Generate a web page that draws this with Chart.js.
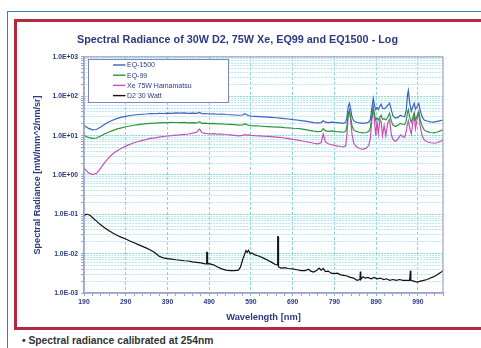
<!DOCTYPE html>
<html>
<head>
<meta charset="utf-8">
<script src="https://cdn.jsdelivr.net/npm/chart.js@4/dist/chart.umd.min.js"></script>
<style>
  body { margin: 0; background: #fff; width: 481px; height: 348px; overflow: hidden; position: relative; font-family: "Liberation Sans", Arial, sans-serif; }
  #blueFrame { position: absolute; left: 7px; top: 11px; width: 500px; height: 400px; border-left: 1.5px solid #3a78c0; border-top: 1.5px solid #3a78c0; }
  #redFrame { position: absolute; left: 14px; top: 19px; width: 480px; height: 305px; border: 3px solid #b32a3c; }
  #note { position: absolute; left: 22px; top: 335px; font-size: 10.3px; font-weight: bold; color: #333; white-space: nowrap; }
  canvas { position: absolute; left: 0; top: 0; }
</style>
</head>
<body>
<div id="blueFrame"></div>
<div id="redFrame"></div>
<div id="note">• Spectral radiance calibrated at 254nm</div>
<canvas id="spectrum" width="481" height="348"></canvas>
<script>
// Longitudes de onda comunes para EQ-1500, EQ-99 y Xe
const bbWave = [
  190, 200, 210, 220, 230, 240, 250, 260, 270, 280,
  290, 300, 310, 320, 330, 340, 350, 360, 370, 380,
  390, 400, 410, 420, 430, 440, 450, 460, 467, 472,
  480, 490, 500, 510, 520, 530, 540, 550, 560, 570,
  575, 580, 585, 590, 600, 610, 620, 630, 640, 650,
  660, 670, 680, 690, 700, 710, 720, 730, 740, 750,
  758, 763, 768, 775, 785, 795, 805, 812, 817, 820,
  823, 826, 829, 832, 836, 842, 850, 858, 866, 872,
  876, 879, 883, 886, 889, 892, 895, 899, 902, 905,
  909, 913, 918, 922, 926, 930, 936, 942, 948, 953,
  958, 962, 965, 967, 970, 974, 978, 981, 984, 988,
  992, 995, 1000, 1005, 1012, 1020, 1028, 1036, 1044, 1050
];
const eq1500 = [
  18, 15.5, 14, 14.3, 16.5, 19.5, 22.5, 25, 27.5, 29.5,
  31, 32.5, 33.5, 34.5, 35, 35.5, 36.5, 36, 37, 36.5,
  37.5, 37, 38, 37.5, 38, 37, 37.5, 37, 39, 36,
  36.5, 35.5, 36, 35, 35.5, 34.5, 34, 33.5, 33, 33.5,
  36, 34, 32, 31.5, 31, 30.5, 30, 29.5, 29, 28.5,
  28, 27, 26.5, 25.5, 25, 24, 23.5, 22.5, 21.5, 21,
  21.5, 24, 22, 21.5, 22, 21.5, 21, 20.5, 22, 30,
  55, 66, 46, 30, 24, 22, 21, 20.5, 21, 22,
  26, 45, 89, 58, 46, 52, 46, 56, 63, 50,
  48, 52, 60, 67, 46, 32, 28, 29, 33, 31,
  30, 45, 110, 140, 70, 42, 55, 66, 47, 55,
  66, 46, 30, 25, 23.5, 22.5, 22, 23, 24, 25
];
const eq99 = [
  10.2, 9.0, 8.5, 8.7, 9.8, 11.2, 12.4, 13.6, 14.8, 15.8,
  16.8, 17.6, 18.4, 19.0, 19.6, 20.2, 20.5, 20.8, 21.0, 21.3,
  21.5, 21.8, 21.6, 21.4, 21.8, 21.2, 21.5, 21.0, 22.5, 20.5,
  20.8, 20.2, 20.4, 19.8, 20.0, 19.5, 19.4, 19.0, 18.6, 18.8,
  19.8, 19.0, 18.4, 18.0, 17.8, 17.6, 17.2, 17.0, 16.8, 16.5,
  16.4, 16.0, 15.8, 15.4, 15.2, 14.8, 14.2, 13.6, 13.0, 12.6,
  12.8, 15.0, 13.4, 12.8, 13.2, 12.6, 12.4, 12.2, 13.0, 18.0,
  34, 42, 28, 17.5, 14.0, 12.8, 12.2, 11.8, 12.0, 12.8,
  15.5, 28, 55, 34, 24, 28, 25, 30, 33, 26,
  27, 25, 30, 37, 24, 18.5, 17.0, 18.5, 20.5, 19.5,
  19.0, 24, 40, 46, 30, 22, 30, 38, 25, 32,
  40, 26, 17.5, 14.0, 12.6, 12.0, 11.8, 12.4, 13.2, 14.0
];
const xe75 = [
  1.5, 1.15, 1.02, 1.1, 1.5, 2.1, 2.8, 3.5, 4.2, 4.8,
  5.4, 6.0, 6.6, 7.1, 7.6, 8.0, 8.5, 8.8, 9.2, 9.5,
  9.8, 10.0, 10.3, 10.5, 10.8, 11.0, 11.6, 12.2, 14.8, 12.0,
  11.4, 11.0, 11.2, 10.9, 11.0, 10.7, 10.5, 10.2, 9.9, 10.1,
  10.6, 10.3, 10.4, 10.2, 10.0, 9.9, 9.7, 9.6, 9.4, 9.2,
  9.0, 8.7, 8.4, 8.0, 7.8, 7.4, 7.1, 6.8, 6.4, 6.2,
  6.6, 11.0, 7.0, 6.2, 5.8, 5.5, 5.3, 5.2, 5.6, 11.0,
  35, 45, 24, 11, 6.5, 5.3, 4.7, 4.5, 4.8, 5.6,
  8.5, 22, 52, 22, 10, 24, 11, 26, 22, 10,
  18, 10, 22, 26, 11, 8.0, 7.2, 8.2, 10.5, 9.5,
  9.0, 13, 20, 24, 16, 11, 22, 34, 15, 26,
  40, 18, 10, 7.8, 7.0, 6.6, 6.4, 6.6, 7.2, 7.8
];

// Lámpara de deuterio
const d2Wave = [
  190, 195, 200, 205, 210, 220, 230, 240, 250, 260,
  270, 280, 290, 300, 310, 320, 330, 340, 350, 360,
  370, 380, 390, 400, 410, 420, 430, 440, 450, 460,
  470, 478, 483, 484, 485, 486, 490, 500, 510, 520,
  530, 540, 550, 560, 565, 570, 575, 578, 581, 584,
  588, 592, 600, 610, 620, 630, 640, 648, 653, 654,
  655, 656, 662, 670, 680, 690, 700, 710, 720, 728,
  733, 740, 748, 753, 758, 763, 768, 775, 782, 790,
  797, 805, 812, 820, 828, 836, 844, 851, 852, 853,
  858, 864, 870, 878, 885, 892, 900, 908, 915, 922,
  930, 938, 946, 954, 962, 970, 972, 973, 980, 988,
  996, 1004, 1012, 1020, 1028, 1036, 1044, 1050
];
const d2 = [
  0.092, 0.100, 0.099, 0.093, 0.083, 0.067, 0.054, 0.045, 0.038, 0.033,
  0.029, 0.026, 0.0235, 0.021, 0.019, 0.017, 0.0153, 0.0138, 0.0122, 0.0105,
  0.0086, 0.0078, 0.0075, 0.0073, 0.0070, 0.0068, 0.0066, 0.0065, 0.0062, 0.0060,
  0.0058, 0.0056, 0.0055, 0.0108, 0.0108, 0.0055, 0.0056, 0.0052, 0.0046, 0.0041,
  0.0038, 0.0037, 0.0037, 0.0038, 0.0046, 0.0070, 0.0098, 0.0120, 0.0108, 0.0122,
  0.0100, 0.0104, 0.0093, 0.0086, 0.0077, 0.0068, 0.0060, 0.0053, 0.0052, 0.027,
  0.027, 0.0046, 0.0043, 0.0044, 0.0042, 0.0041, 0.0039, 0.0037, 0.0037, 0.0040,
  0.0036, 0.0034, 0.0038, 0.0043, 0.0038, 0.0042, 0.0035, 0.0036, 0.0032, 0.0031,
  0.0032, 0.0029, 0.0028, 0.0027, 0.0025, 0.0024, 0.0021, 0.0022, 0.0035, 0.0022,
  0.0026, 0.0024, 0.0025, 0.0023, 0.0025, 0.0023, 0.0024, 0.0022, 0.0023, 0.0021,
  0.0022, 0.0021, 0.0022, 0.0021, 0.0021, 0.0021, 0.0037, 0.0021, 0.0020, 0.0019,
  0.0020, 0.0021, 0.0022, 0.0024, 0.0026, 0.0029, 0.0033, 0.0037
];

// Etiquetas de los ejes
const xTickLabels = [190, 290, 390, 490, 590, 690, 790, 890, 990];
const yDecades = [0.001, 0.01, 0.1, 1, 10, 100, 1000];

const navy = '#2b3a80';
const font = 'Liberation Sans, Arial, sans-serif';

function toPoints(xs, ys) {
  return xs.map((x, i) => ({ x: x, y: ys[i] }));
}

function isDecade(v) {
  const l = Math.log10(v);
  return Math.abs(l - Math.round(l)) < 1e-6;
}

function formatExp(v) {
  const e = Math.round(Math.log10(v));
  const sign = e < 0 ? '-' : '+';
  return '1.0E' + sign + String(Math.abs(e)).padStart(2, '0');
}

// Ticks menores del eje Y (2..9 por década) y del eje X (cada 20 nm)
const yTicks = [];
yDecades.forEach((d, i) => {
  if (i === yDecades.length - 1) { yTicks.push(d); return; }
  for (let k = 1; k <= 9; k++) yTicks.push(d * k);
});
const xTicks = [];
for (let w = 190; w <= 1050; w += 20) xTicks.push(w);

// Marco del área de trazado y leyenda
const framePlugin = {
  id: 'frame',
  afterDatasetsDraw(chart) {
    const { ctx, chartArea: a } = chart;
    ctx.save();
    ctx.strokeStyle = '#9ea3c8';
    ctx.lineWidth = 1.2;
    ctx.strokeRect(a.left, a.top, a.right - a.left, a.bottom - a.top);

    // leyenda
    const bx = 88.5, by = 59.5, bw = 140, bh = 43;
    ctx.fillStyle = '#fff';
    ctx.fillRect(bx, by, bw, bh);
    ctx.strokeStyle = '#7f86b8';
    ctx.lineWidth = 1;
    ctx.strokeRect(bx, by, bw, bh);
    ctx.font = '7px ' + font;
    ctx.textBaseline = 'middle';
    chart.data.datasets.forEach((ds, i) => {
      const y = 65 + i * 10.2;
      ctx.strokeStyle = ds.borderColor;
      ctx.lineWidth = 1.4;
      ctx.beginPath();
      ctx.moveTo(113, y);
      ctx.lineTo(125.5, y);
      ctx.stroke();
      ctx.fillStyle = navy;
      ctx.fillText(ds.label, 127, y + 0.5);
    });
    ctx.restore();
  }
};

const ctx = document.getElementById('spectrum').getContext('2d');
const chart = new Chart(ctx, {
  type: 'line',
  data: {
    datasets: [
      { label: 'EQ-1500', data: toPoints(bbWave, eq1500), borderColor: '#3a62c2' },
      { label: 'EQ-99', data: toPoints(bbWave, eq99), borderColor: '#2a963c' },
      { label: 'Xe 75W Hamamatsu', data: toPoints(bbWave, xe75), borderColor: '#c94fb4' },
      { label: 'D2 30 Watt', data: toPoints(d2Wave, d2), borderColor: '#111111' }
    ]
  },
  options: {
    responsive: false,
    animation: false,
    elements: {
      line: { borderWidth: 1.2, tension: 0 },
      point: { radius: 0 }
    },
    layout: { padding: { left: 32, top: 34, right: 38, bottom: 25 } },
    plugins: {
      legend: { display: false },
      tooltip: { enabled: false },
      title: {
        display: true,
        text: 'Spectral Radiance of 30W D2, 75W Xe, EQ99 and EQ1500 - Log',
        color: navy,
        font: { family: font, size: 10.8, weight: 'bold', lineHeight: 1.2 },
        padding: { top: 0, bottom: 10 }
      }
    },
    scales: {
      x: {
        type: 'linear',
        min: 190,
        max: 1050,
        afterBuildTicks: (scale) => { scale.ticks = xTicks.map(v => ({ value: v })); },
        afterFit: (scale) => { scale.height = 30; },
        ticks: {
          autoSkip: false,
          maxRotation: 0,
          padding: 2,
          color: navy,
          font: { family: font, size: 6.8, weight: 'bold' },
          callback: (v) => xTickLabels.includes(v) ? String(v) : ''
        },
        grid: {
          color: (c) => c.tick && xTickLabels.includes(c.tick.value) ? '#86d3e0' : 'rgba(0,0,0,0)',
          tickColor: '#9ea3c8',
          tickLength: 3,
          lineWidth: 1
        },
        border: { color: '#9ea3c8', width: 1.2, dash: [3, 2] },
        title: {
          display: true,
          text: 'Wavelength [nm]',
          color: navy,
          font: { family: font, size: 9.3, weight: 'bold', lineHeight: 1.2 },
          padding: { top: 0, bottom: 0 }
        }
      },
      y: {
        type: 'logarithmic',
        min: 0.001,
        max: 1000,
        afterBuildTicks: (scale) => { scale.ticks = yTicks.map(v => ({ value: v })); },
        afterFit: (scale) => { scale.width = 52; },
        ticks: {
          autoSkip: false,
          padding: 3,
          color: navy,
          font: { family: font, size: 6.8, weight: 'bold' },
          callback: (v) => isDecade(v) ? formatExp(v) : ''
        },
        grid: {
          color: (c) => c.tick && isDecade(c.tick.value) ? '#86d3e0' : '#b6e6ee',
          tickColor: '#9ea3c8',
          tickLength: 3,
          lineWidth: 1
        },
        border: { color: '#9ea3c8', width: 1.2, dash: [2, 1] },
        title: {
          display: true,
          text: 'Spectral Radiance [mW/mm^2/nm/sr]',
          color: navy,
          font: { family: font, size: 9, weight: 'bold', lineHeight: 1.2 },
          padding: { top: 0, bottom: 0 }
        }
      }
    }
  },
  plugins: [framePlugin]
});
</script>
</body>
</html>
